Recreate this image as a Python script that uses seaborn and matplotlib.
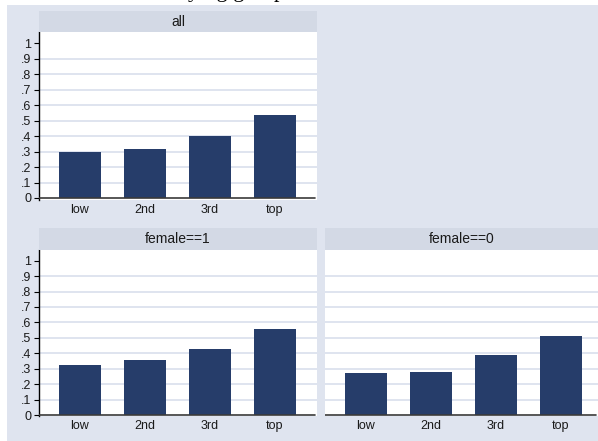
import matplotlib
matplotlib.use("Agg")
import matplotlib.pyplot as plt
from matplotlib.patches import Rectangle
import seaborn as sns
import pandas as pd

# data
groups = ["low", "2nd", "3rd", "top"]
share_all = [0.300, 0.314, 0.403, 0.537]
share_female1 = [0.324, 0.358, 0.426, 0.557]
share_female0 = [0.270, 0.281, 0.391, 0.514]
yticks = [0, 0.1, 0.2, 0.3, 0.4, 0.5, 0.6, 0.7, 0.8, 0.9, 1]

BG = "#dfe4ef"
HEAD = "#d3d9e5"
GRID = "#dce2ee"
BAR = "#263d6a"

W, H = 598, 441


def box(x0, y0, x1, y1):
    # pixel box -> figure fraction
    return [x0 / W, 1 - y1 / H, (x1 - x0) / W, (y1 - y0) / H]


def ylab(v):
    if v == 0:
        return "0"
    if v == 1:
        return "1"
    return f"{v:.1f}".lstrip("0")


sns.set_theme(style="white")
plt.rcParams['font.family'] = ['Liberation Sans', 'DejaVu Sans']

fig = plt.figure(figsize=(W / 100, H / 100), dpi=100)
fig.patch.set_facecolor("white")
fig.add_artist(Rectangle((7 / W, 0), 1 - 7 / W, 1 - 5 / H, transform=fig.transFigure,
                         facecolor=BG, edgecolor="none", zorder=-10))

# cropped title at the very top of the original (only descenders show)
fig.text(188 / W, 1 + 3.5 / H, "ying group", family=['Liberation Serif', 'DejaVu Serif'],
         fontsize=16, ha="left", va="baseline", color="black")

panels = [
    ("all", share_all, (39, 32, 317, 200), (11, 32), (-0.013, 1.074), 3.646, True),
    ("female==1", share_female1, (39, 250, 317, 416), (228, 250), (-0.006, 1.069), 3.646, True),
    ("female==0", share_female0, (325, 250, 598, 416), (228, 250), (-0.006, 1.069), 3.57, False),
]

for title, vals, (x0, y0, x1, y1), (h0, h1), ylim, xr, show_y in panels:
    ax = fig.add_axes(box(x0, y0, x1, y1))
    ax.set_facecolor("white")
    df = pd.DataFrame({"group": groups, "share": vals})
    sns.barplot(data=df, x="group", y="share", color=BAR, saturation=1, width=0.646,
                linewidth=0, ax=ax, zorder=3)
    ax.set_xlim(-0.63, xr)
    ax.set_ylim(*ylim)
    for g in yticks[1:-1]:
        ax.axhline(g, color=GRID, lw=1.3, zorder=1)
    ax.axhline(0, xmax=0.993, color="#3a3a3a", lw=1.2, zorder=4)
    for s in ["top", "right", "bottom"]:
        ax.spines[s].set_visible(False)
    ax.set_xlabel("")
    ax.set_ylabel("")
    ax.tick_params(axis="x", length=0, pad=3, labelsize=9, labelcolor="#1a1a1a")
    ax.set_yticks(yticks)
    ax.set_yticklabels([ylab(v) for v in yticks])
    if show_y:
        ax.spines["left"].set_color("black")
        ax.spines["left"].set_linewidth(1.0)
        ax.tick_params(axis="y", left=True, length=3.5, width=0.8, color="black",
                       pad=2, labelsize=9, labelcolor="#1a1a1a")
    else:
        ax.spines["left"].set_visible(False)
        ax.tick_params(axis="y", left=False, labelleft=False)

    hax = fig.add_axes(box(x0, h0, x1, h1))
    hax.set_facecolor(HEAD)
    hax.set_xticks([])
    hax.set_yticks([])
    for s in hax.spines.values():
        s.set_visible(False)
    hax.text(0.5, 0.5, title, ha="center", va="center", fontsize=10, color="#1a1a1a",
             transform=hax.transAxes)

fig.savefig("out.png", dpi=100)
